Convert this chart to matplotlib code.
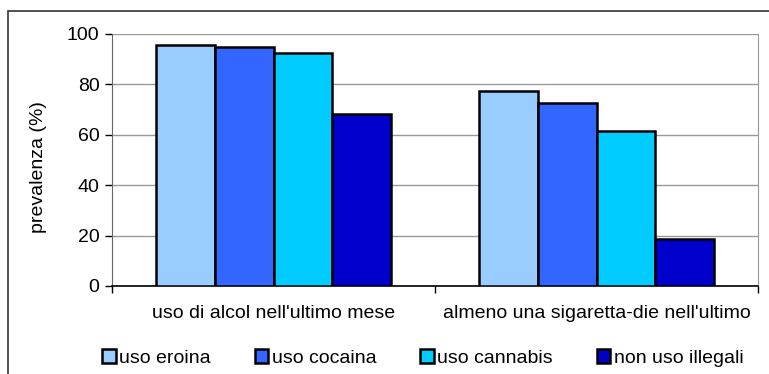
import matplotlib.pyplot as plt
import numpy as np
from matplotlib.patches import Rectangle

plt.rcParams['font.family'] = ['Liberation Sans', 'DejaVu Sans']

categories = ["uso di alcol nell'ultimo mese", "almeno una sigaretta-die nell'ultimo"]
series = ['uso eroina', 'uso cocaina', 'uso cannabis', 'non uso illegali']
values = {
    'uso eroina': [95.5, 77.2],
    'uso cocaina': [94.7, 72.7],
    'uso cannabis': [92.3, 61.5],
    'non uso illegali': [68.4, 18.5],
}
colors = ['#99CCFF', '#3366FF', '#00CCFF', '#0000CC']
yticks = [0, 20, 40, 60, 80, 100]

W, H = 769, 374
FS = 14
fig = plt.figure(figsize=(W / 100, H / 100), dpi=100)
# plot area in pixels: left 112, right 758, top 34, bottom 286
ax = fig.add_axes([112 / W, 1 - 286 / H, (758 - 112) / W, (286 - 34) / H])

# outer chart frame (right/bottom edges fall outside the image)
fig.patches.append(Rectangle((8 / W, -0.1), 1.2, 1 - 11 / H + 0.1, transform=fig.transFigure,
                             fill=False, edgecolor='#333333', linewidth=1.2))

x = np.arange(len(categories))
group_w = 0.727
bw = group_w / len(series)
for i, s in enumerate(series):
    ax.bar(x - group_w / 2 + bw * (i + 0.5), values[s], width=bw, color=colors[i],
           edgecolor='black', linewidth=1.8, label=s, zorder=3)

ax.set_xlim(-0.5, 1.5)
ax.set_ylim(0, 100)
ax.set_yticks(yticks)
ax.set_yticklabels([str(v) for v in yticks], fontsize=FS)
ax.yaxis.grid(True, color='#999999', linewidth=1, zorder=0)
ax.set_axisbelow(True)

ax.set_xticks([-0.5, 0.5, 1.5])
ax.set_xticklabels([])
ax.set_xticks(x, minor=True)
ax.set_xticklabels(categories, minor=True, fontsize=FS)
ax.tick_params(axis='x', which='minor', length=0, pad=14)
ax.tick_params(axis='x', which='major', length=5, direction='out', width=1)
ax.tick_params(axis='y', length=5, direction='out', width=1, pad=4)

ax.spines['top'].set_visible(False)
ax.spines['right'].set_color('#999999')
ax.spines['left'].set_color('#666666')
ax.spines['bottom'].set_color('black')
ax.spines['bottom'].set_linewidth(1.2)

ax.set_ylabel('prevalenza (%)', fontsize=FS, labelpad=14)
ax.yaxis.label.set_y(0.47)

fig.legend(loc='center', bbox_to_anchor=(423 / W, 1 - 358 / H), ncol=4, frameon=False,
           fontsize=FS, handlelength=0.68, handleheight=0.68, handletextpad=0.2,
           columnspacing=2.25)

plt.savefig('out.png', dpi=100)
